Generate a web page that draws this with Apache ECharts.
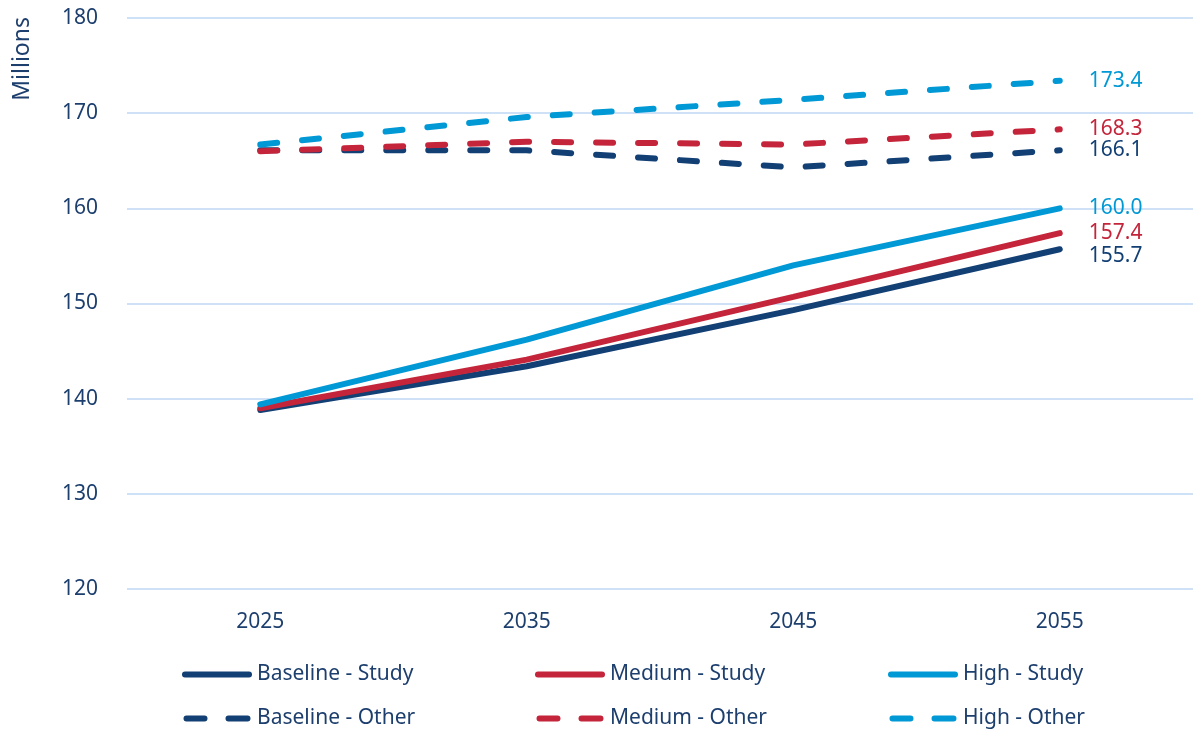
<!DOCTYPE html>
<html>
<head>
<meta charset="utf-8">
<script src="https://cdn.jsdelivr.net/npm/echarts@6/dist/echarts.min.js"></script>
<style>
html,body{margin:0;padding:0;background:#fff;}
#main{width:1193px;height:729px;}
</style>
</head>
<body>
<div id="main"></div>
<script>
var years = ['2025', '2035', '2045', '2055'];
var baselineStudy = [138.8, 143.4, 149.3, 155.7];
var mediumStudy = [139.0, 144.1, 150.7, 157.4];
var highStudy = [139.4, 146.2, 154.0, 160.0];
var baselineOther = [166.1, 166.1, 164.3, 166.1];
var mediumOther = [166.0, 167.0, 166.7, 168.3];
var highOther = [166.7, 169.6, 171.4, 173.4];

var navy = '#123f74', red = '#c4253a', sky = '#0099d5';
var textColor = '#1d3f6e';
var font = 'Noto Sans';

// legend icons: solid bar and dashed bar
var solidIcon = 'path://M3,0h64a3,3 0 0 1 0,6h-64a3,3 0 0 1 0,-6z';
var dashIcon = 'path://M3,0h18a3,3 0 0 1 0,6h-18a3,3 0 0 1 0,-6z M45,0h19a3,3 0 0 1 0,6h-19a3,3 0 0 1 0,-6z';

function makeLine(name, data, color, dashed, labelOffset){
    return {
        name: name,
        type: 'line',
        data: data,
        symbol: 'none',
        lineStyle: {
            color: color,
            width: 6,
            type: dashed ? [17, 25] : 'solid',
            cap: 'round'
        },
        itemStyle: {color: color},
        endLabel: {
            show: true,
            distance: 29,
            offset: labelOffset || [0, 0],
            color: color,
            fontFamily: font,
            fontSize: 21,
            formatter: function(p){ return p.value.toFixed(1); }
        },
        labelLine: {show: !!labelOffset, lineStyle: {color: '#7db6e6', width: 1.5}},
        z: dashed ? 2 : 3
    };
}

function legendCol(left, first, second){
    return {
        left: left, top: 664, height: 80, orient: 'vertical', padding: 0,
        itemGap: 23, itemWidth: 70, itemHeight: 6,
        textStyle: {color: textColor, fontFamily: font, fontSize: 21, height: 20, lineHeight: 20},
        data: [{name: first, icon: solidIcon}, {name: second, icon: dashIcon}]
    };
}

var myChart = echarts.init(document.getElementById('main'));
var option = {
    animation: false,
    grid: {left: 127, right: -8, top: 18, bottom: 140},
    xAxis: {
        type: 'category',
        data: years,
        boundaryGap: true,
        axisLine: {show: false},
        axisTick: {show: false},
        axisLabel: {color: textColor, fontFamily: font, fontSize: 21, margin: 23}
    },
    yAxis: {
        type: 'value',
        min: 120,
        max: 180,
        interval: 10,
        axisLine: {show: false},
        axisTick: {show: false},
        axisLabel: {color: textColor, fontFamily: font, fontSize: 21, margin: 29},
        splitLine: {lineStyle: {color: '#cfe1f6', width: 2}}
    },
    graphic: [{
        type: 'text',
        left: 11,
        top: 17,
        style: {text: 'Millions', fill: textColor, font: '23px "Noto Sans"'},
        rotation: Math.PI / 2
    }],
    legend: [
        legendCol(182, 'Baseline - Study', 'Baseline - Other'),
        legendCol(535, 'Medium - Study', 'Medium - Other'),
        legendCol(888, 'High - Study', 'High - Other')
    ],
    series: [
        makeLine('Baseline - Study', baselineStudy, navy, false, [0, 7]),
        makeLine('Medium - Study', mediumStudy, red, false),
        makeLine('High - Study', highStudy, sky, false),
        makeLine('Baseline - Other', baselineOther, navy, true),
        makeLine('Medium - Other', mediumOther, red, true),
        makeLine('High - Other', highOther, sky, true)
    ]
};
myChart.setOption(option);
</script>
</body>
</html>
